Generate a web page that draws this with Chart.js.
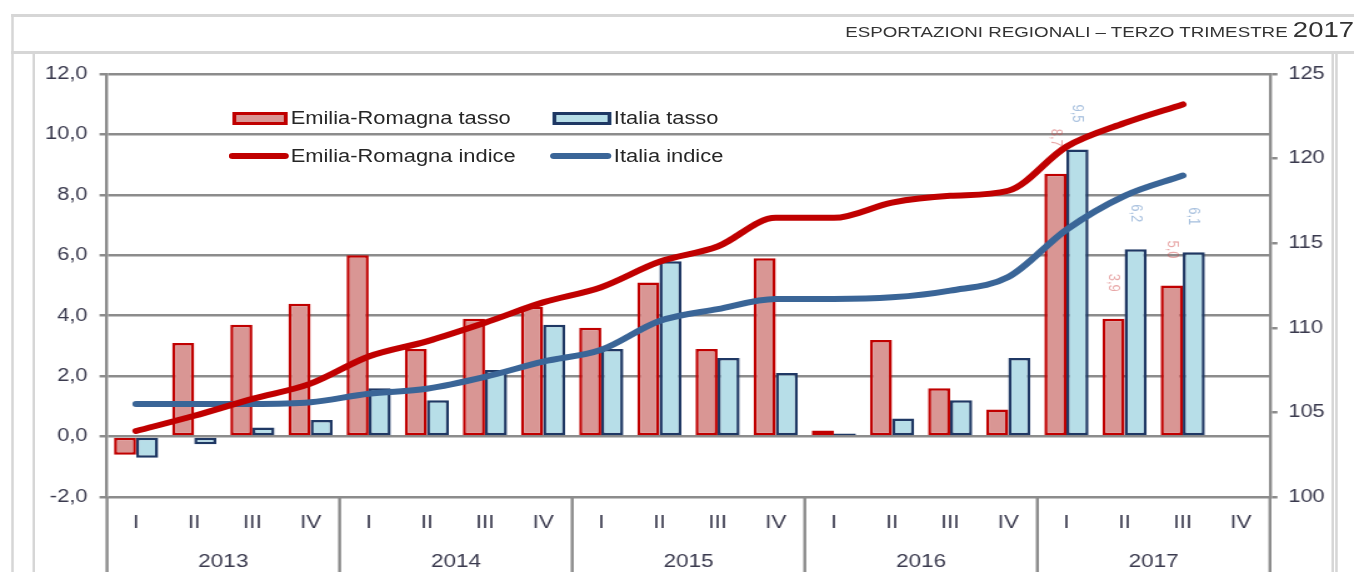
<!DOCTYPE html>
<html lang="it">
<head>
<meta charset="UTF-8">
<title>Esportazioni regionali – terzo trimestre 2017</title>
<script src="https://cdn.jsdelivr.net/npm/chart.js"></script>
<style>
  html,body{margin:0;padding:0;background:#fff;overflow:hidden}
  body{width:1354px;height:572px;font-family:"Liberation Sans",Arial,sans-serif;color:#333}
  /* l'immagine originale è stirata in orizzontale: scala 1,25 */
  #stage{position:absolute;left:0;top:0;width:1083px;height:572px;transform:scaleX(1.2502);transform-origin:0 0}
  .riga{position:absolute;background:#d6d6d6}
  #titolo{position:absolute;left:676px;top:19px;white-space:nowrap;font-size:15px;line-height:22px;color:#333}
  #titolo span{font-size:22px}
  #grafico{position:absolute;left:0;top:0;width:1083px;height:572px}
  .leg{position:absolute;font-size:17.5px;line-height:20px;color:#262626;white-space:nowrap}
  .box{position:absolute;height:13px;box-sizing:border-box;border:3px solid}
  .tratto{position:absolute;height:6px;border-radius:3px}
</style>
</head>
<body>
<div id="stage">
  <div class="riga" style="left:9px;top:14px;width:1080px;height:2.5px"></div>
  <div class="riga" style="left:9px;top:51px;width:1080px;height:2.5px"></div>
  <div class="riga" style="left:8.6px;top:14px;width:2px;height:560px"></div>
  <div class="riga" style="left:25.6px;top:54px;width:2px;height:520px"></div>
  <div class="riga" style="left:1064.8px;top:54px;width:2px;height:520px"></div>
  <div class="riga" style="left:1068.4px;top:54px;width:2px;height:520px"></div>
  <div id="titolo">ESPORTAZIONI REGIONALI – TERZO TRIMESTRE <span>2017</span></div>

  <div id="grafico"><canvas id="cv"></canvas></div>

  <div class="box" style="left:185.6px;top:112px;width:44px;background:#d99694;border-color:#c00000"></div>
  <div class="leg" style="left:232.5px;top:108px">Emilia-Romagna tasso</div>
  <div class="box" style="left:441.6px;top:112px;width:47px;background:#b7dee8;border-color:#1f3864"></div>
  <div class="leg" style="left:491px;top:108px">Italia tasso</div>
  <div class="tratto" style="left:183px;top:153px;width:48px;background:#c00000"></div>
  <div class="leg" style="left:232.5px;top:146px">Emilia-Romagna indice</div>
  <div class="tratto" style="left:440px;top:153px;width:49px;background:#3a6597"></div>
  <div class="leg" style="left:491px;top:146px">Italia indice</div>
</div>

<script>
// dati
const anni = ['2013', '2014', '2015', '2016', '2017'];
const trimestri = ['I','II','III','IV','I','II','III','IV','I','II','III','IV','I','II','III','IV','I','II','III','IV'];

// tasso di variazione (asse sinistro)
const tassoER = [-0.6, 3.1, 3.7, 4.4, 6.0, 2.9, 3.9, 4.3, 3.6, 5.1, 2.9, 5.9, 0.2, 3.2, 1.6, 0.9, 8.7, 3.9, 5.0, null];
const tassoIT = [-0.7, -0.25, 0.3, 0.55, 1.6, 1.2, 2.2, 3.7, 2.9, 5.8, 2.6, 2.1, 0.1, 0.6, 1.2, 2.6, 9.5, 6.2, 6.1, null];

// indice (asse destro)
const indiceER = [103.9, 104.8, 105.8, 106.7, 108.3, 109.2, 110.3, 111.5, 112.4, 113.9, 114.8, 116.5, 116.5, 117.4, 117.8, 118.1, 120.7, 122.1, 123.2, null];
const indiceIT = [105.5, 105.5, 105.5, 105.6, 106.1, 106.4, 107.1, 108.0, 108.7, 110.4, 111.1, 111.7, 111.7, 111.8, 112.2, 113.0, 115.8, 117.8, 119.0, null];

// trimestri con le etichette (sbiadite) sopra le barre
const conEtichetta = [16, 17, 18];

const grigio = '#8c8c8c';
const testo = '#3a3a4e';
Chart.defaults.font.family = '"Liberation Sans", Arial, sans-serif';

const virgola = v => v.toFixed(1).replace('.', ',');

// anni sotto i trimestri e separatori verticali
const anniPlugin = {
  id: 'anni',
  afterDraw(chart) {
    const {ctx, chartArea, scales: {x}} = chart;
    ctx.save();
    ctx.strokeStyle = grigio;
    ctx.lineWidth = 2.4;
    for (let k = 0; k <= anni.length; k++) {
      let xx;
      if (k === 0) xx = chartArea.left;
      else if (k === anni.length) xx = chartArea.right;
      else xx = (x.getPixelForValue(4 * k - 1) + x.getPixelForValue(4 * k)) / 2;
      ctx.beginPath();
      ctx.moveTo(xx, chartArea.bottom);
      ctx.lineTo(xx, chart.height);
      ctx.stroke();
    }
    ctx.fillStyle = testo;
    ctx.font = '18px "Liberation Sans", Arial, sans-serif';
    ctx.textAlign = 'center';
    ctx.textBaseline = 'middle';
    anni.forEach((a, k) => {
      const xx = (x.getPixelForValue(4 * k) + x.getPixelForValue(4 * k + 3)) / 2;
      ctx.fillText(a, xx, 562);
    });
    ctx.restore();
  }
};

// etichette ruotate sopra le barre del 2017
const etichettePlugin = {
  id: 'etichette',
  afterDatasetsDraw(chart) {
    const ctx = chart.ctx;
    const colori = {2: 'rgba(210,80,80,0.5)', 3: 'rgba(80,130,190,0.5)'};
    ctx.save();
    ctx.font = '13px "Liberation Sans", Arial, sans-serif';
    ctx.textAlign = 'center';
    ctx.textBaseline = 'middle';
    [2, 3].forEach(d => {
      const meta = chart.getDatasetMeta(d);
      conEtichetta.forEach(i => {
        const el = meta.data[i];
        const v = chart.data.datasets[d].data[i];
        if (!el || v == null) return;
        ctx.save();
        ctx.translate(el.x, el.y - 36);
        ctx.rotate(Math.PI / 2);
        ctx.fillStyle = colori[d];
        ctx.fillText(virgola(v), 0, 0);
        ctx.restore();
      });
    });
    ctx.restore();
  }
};

new Chart(document.getElementById('cv'), {
  data: {
    labels: trimestri,
    datasets: [
      {type: 'line', label: 'Emilia-Romagna indice', data: indiceER, yAxisID: 'y2',
       borderColor: '#c00000', borderWidth: 6, pointRadius: 0, cubicInterpolationMode: 'monotone',
       borderCapStyle: 'round', borderJoinStyle: 'round', order: 0},
      {type: 'line', label: 'Italia indice', data: indiceIT, yAxisID: 'y2',
       borderColor: '#3a6597', borderWidth: 6, pointRadius: 0, cubicInterpolationMode: 'monotone',
       borderCapStyle: 'round', borderJoinStyle: 'round', order: 1},
      {type: 'bar', label: 'Emilia-Romagna tasso', data: tassoER, yAxisID: 'y',
       backgroundColor: '#d99694', borderColor: '#c00000', borderWidth: 2.5,
       borderSkipped: false, categoryPercentage: 0.76, barPercentage: 1, order: 2},
      {type: 'bar', label: 'Italia tasso', data: tassoIT, yAxisID: 'y',
       backgroundColor: '#b7dee8', borderColor: '#1f3864', borderWidth: 2.5,
       borderSkipped: false, categoryPercentage: 0.76, barPercentage: 1, order: 3}
    ]
  },
  options: {
    responsive: true,
    maintainAspectRatio: false,
    animation: false,
    layout: {padding: {top: 74, left: 0, right: 0, bottom: 0}},
    plugins: {legend: {display: false}, tooltip: {enabled: false}},
    scales: {
      x: {
        offset: true,
        grid: {display: false, drawTicks: false},
        border: {display: false},
        ticks: {color: testo, font: {size: 18}, padding: 15, maxRotation: 0, autoSkip: false},
        afterFit(s) { s.height = 75; }
      },
      y: {
        position: 'left', min: -2, max: 12,
        ticks: {stepSize: 2, callback: v => virgola(v), color: testo, font: {size: 17.5}, padding: 9.6},
        grid: {color: grigio, lineWidth: 2.5, tickLength: 6},
        border: {color: grigio, width: 2.4},
        afterFit(s) { s.width = 85.6; }
      },
      y2: {
        position: 'right', min: 100, max: 125,
        ticks: {stepSize: 5, color: testo, font: {size: 17.5}, padding: 8.6},
        grid: {drawOnChartArea: false, color: grigio, lineWidth: 2.5, tickLength: 6},
        border: {color: grigio, width: 2.4},
        afterFit(s) { s.width = 67.2; }
      }
    }
  },
  plugins: [anniPlugin, etichettePlugin]
});
</script>
</body>
</html>
